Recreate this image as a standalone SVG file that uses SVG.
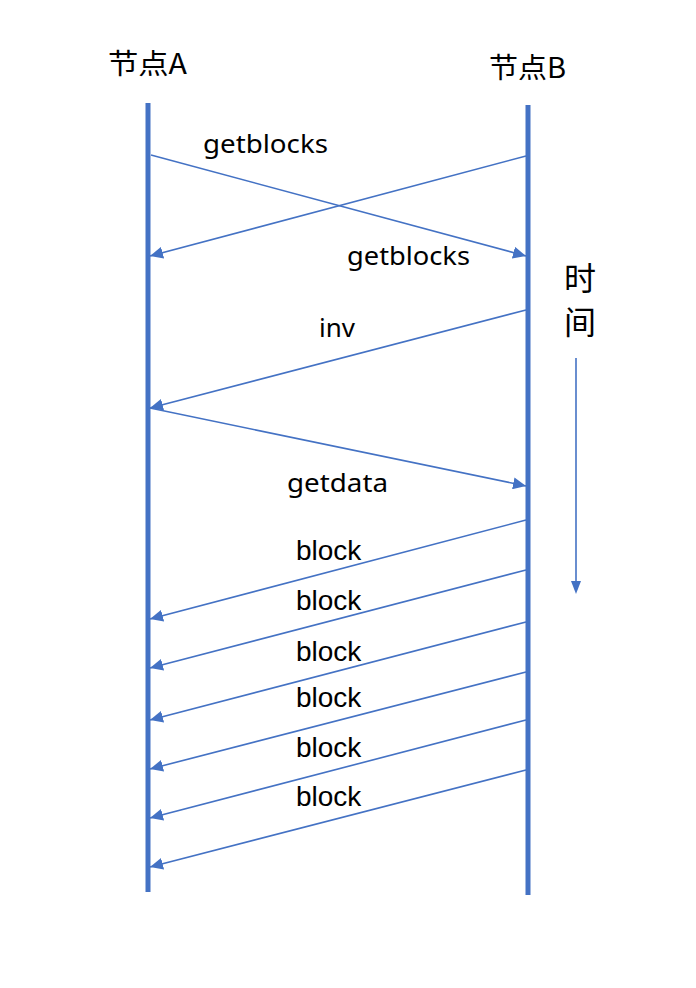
<svg xmlns="http://www.w3.org/2000/svg" width="696" height="988" viewBox="0 0 696 988">
<style>
.life{stroke:#4472C4;stroke-width:5;fill:none}
.msg{stroke:#4472C4;stroke-width:1.6;fill:none;marker-end:url(#ah)}
.lbl{font-family:"Noto Sans","Noto Sans CJK SC",sans-serif;font-size:25px;fill:#000}
.blk{font-family:"Liberation Sans",Arial,sans-serif;font-size:28px;fill:#000}
.cjk{font-family:"Noto Sans CJK SC","Noto Sans",sans-serif;fill:#000}
</style>
<defs>
<marker id="ah" markerUnits="userSpaceOnUse" markerWidth="14" markerHeight="12" refX="13" refY="6" orient="auto">
<path d="M0,0 L13,6 L0,12 Z" fill="#4472C4"/>
</marker>
</defs>
<rect width="696" height="988" fill="#fff"/>
<g id="nodeA">
<text class="cjk" x="108" y="74" font-size="28" textLength="79" lengthAdjust="spacingAndGlyphs">节点A</text>
<line class="life" x1="148" y1="103" x2="148" y2="892"/>
</g>
<g id="nodeB">
<text class="cjk" x="489" y="78" font-size="28" textLength="77" lengthAdjust="spacingAndGlyphs">节点B</text>
<line class="life" x1="528" y1="105" x2="528" y2="895"/>
</g>
<g id="time">
<text class="cjk" x="580" y="290" font-size="32" text-anchor="middle">时</text>
<text class="cjk" x="580" y="334" font-size="32" text-anchor="middle">间</text>
<line x1="576" y1="358" x2="576" y2="582" stroke="#4472C4" stroke-width="1.6"/>
<path d="M571,581 L576,594 L581,581 Z" fill="#4472C4"/>
</g>
<g id="connectors">
<line class="msg" x1="151" y1="155" x2="526" y2="256"/>
<line class="msg" x1="526" y1="156" x2="150" y2="256"/>
<line class="msg" x1="526" y1="310" x2="150" y2="408"/>
<line class="msg" x1="150" y1="408" x2="526" y2="486"/>
<line class="msg" x1="526" y1="520" x2="150" y2="619"/>
<line class="msg" x1="526" y1="570" x2="150" y2="668"/>
<line class="msg" x1="526" y1="622" x2="150" y2="720"/>
<line class="msg" x1="526" y1="672" x2="150" y2="769"/>
<line class="msg" x1="526" y1="720" x2="150" y2="818"/>
<line class="msg" x1="526" y1="770" x2="150" y2="867"/>
</g>
<g id="labels">
<text class="lbl" x="203" y="153" textLength="125" lengthAdjust="spacingAndGlyphs">getblocks</text>
<text class="lbl" x="347" y="265" textLength="123" lengthAdjust="spacingAndGlyphs">getblocks</text>
<text class="lbl" x="319" y="337" textLength="36" lengthAdjust="spacingAndGlyphs">inv</text>
<text class="lbl" x="287" y="492" textLength="101" lengthAdjust="spacingAndGlyphs">getdata</text>
<text class="blk" x="296" y="560">block</text>
<text class="blk" x="296" y="610">block</text>
<text class="blk" x="296" y="661">block</text>
<text class="blk" x="296" y="707">block</text>
<text class="blk" x="296" y="757">block</text>
<text class="blk" x="296" y="806">block</text>
</g>
</svg>
